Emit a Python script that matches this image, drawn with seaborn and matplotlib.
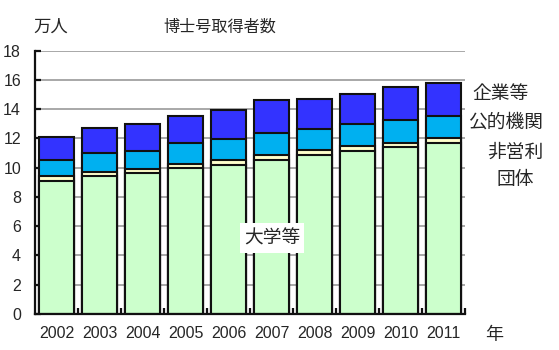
import numpy as np
import pandas as pd
import matplotlib
matplotlib.use("Agg")
import matplotlib.pyplot as plt
import seaborn as sns

years = ["2002", "2003", "2004", "2005", "2006", "2007", "2008", "2009", "2010", "2011"]
university = [9.10, 9.40, 9.63, 9.96, 10.19, 10.53, 10.85, 11.14, 11.39, 11.66]
nonprofit = [0.30, 0.29, 0.29, 0.30, 0.34, 0.34, 0.34, 0.34, 0.32, 0.34]
public = [1.13, 1.31, 1.24, 1.40, 1.45, 1.51, 1.49, 1.49, 1.55, 1.54]
company = [1.58, 1.73, 1.86, 1.91, 1.97, 2.27, 2.03, 2.06, 2.23, 2.27]
yticks = [0, 2, 4, 6, 8, 10, 12, 14, 16, 18]

sns.set_theme(style="white")
plt.rcParams["font.family"] = ["Liberation Sans", "Noto Sans CJK JP", "DejaVu Sans"]
jp = ["Noto Sans CJK JP", "DejaVu Sans"]

df = pd.DataFrame({"year": years, "univ": university, "np": nonprofit,
                   "pub": public, "comp": company})
df["c1"] = df["univ"]
df["c2"] = df["c1"] + df["np"]
df["c3"] = df["c2"] + df["pub"]
df["c4"] = df["c3"] + df["comp"]

fig = plt.figure(figsize=(5.59, 3.5), dpi=100)
ax = fig.add_axes([35/559, 1-314/350, 430/559, (314-50.7)/350])

layers = [("c4", "#3333FF"), ("c3", "#00B0F0"), ("c2", "#FFFFCC"), ("c1", "#CCFFCC")]
for col, color in layers:
    sns.barplot(data=df, x="year", y=col, order=years, color=color, width=0.8,
                edgecolor="#111111", linewidth=1.5, saturation=1, ax=ax, zorder=3)

ax.set_xlim(-0.5, len(years) - 0.5)
ax.set_ylim(0, 18)
ax.set_yticks(yticks)
ax.set_yticklabels([str(t) for t in yticks], fontsize=11.5)
ax.yaxis.grid(True, color="#999999", linewidth=1.2, zorder=0)
ax.set_axisbelow(True)
ax.set_xlabel("")
ax.set_ylabel("")
for s in ["top", "right"]:
    ax.spines[s].set_visible(False)
for s in ["left", "bottom"]:
    ax.spines[s].set_color("#111111")
    ax.spines[s].set_linewidth(1.6)
    ax.spines[s].set_zorder(5)

ax.tick_params(axis="y", direction="in", length=4, width=1.6, color="#111111",
               pad=10, labelsize=11.5, left=True)
ax.set_xticks(range(len(years)))
ax.set_xticklabels(years, fontsize=11.5)
ax.tick_params(axis="x", which="major", length=0, pad=9, labelsize=11.5)
ax.set_xticks(np.arange(0.5, len(years), 1.0), minor=True)
ax.tick_params(axis="x", which="minor", direction="in", length=4, width=1.6,
               color="#111111", bottom=True)

fig.text(33/559, 1-27/350, "万人", family=jp, fontsize=12.5, va="center", ha="left")
fig.text(220/559, 1-27/350, "博士号取得者数", family=jp, fontsize=11.6, va="center", ha="center")
fig.text(485/559, 1-335/350, "年", family=jp, fontsize=13, va="center", ha="left")
fig.text(501/559, 1-93/350, "企業等", family=jp, fontsize=13.5, va="center", ha="center")
fig.text(506/559, 1-122/350, "公的機関", family=jp, fontsize=13.5, va="center", ha="center")
fig.text(515/559, 1-152/350, "非営利", family=jp, fontsize=13.5, va="center", ha="center")
fig.text(515/559, 1-179/350, "団体", family=jp, fontsize=13.5, va="center", ha="center")
fig.text(272/559, 1-238/350, "大学等", family=jp, fontsize=13.5, va="center", ha="center",
         bbox=dict(facecolor="white", edgecolor="none", pad=3), zorder=10)

fig.savefig("out.png", dpi=100)
